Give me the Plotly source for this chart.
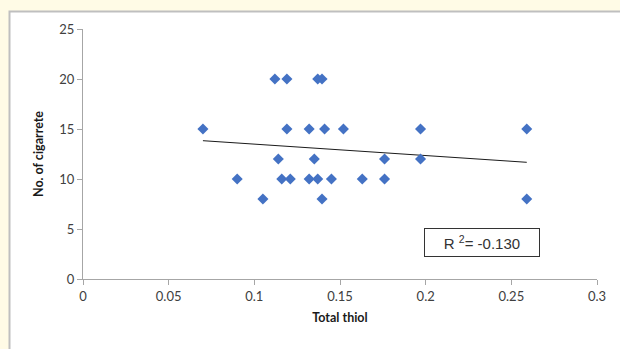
import plotly.graph_objects as go

# Data
total_thiol = [0.070, 0.090, 0.105, 0.112, 0.119, 0.114, 0.116, 0.119, 0.121,
               0.132, 0.132, 0.135, 0.137, 0.1395, 0.137, 0.1395, 0.141, 0.145,
               0.152, 0.163, 0.176, 0.176, 0.197, 0.197, 0.259, 0.259]
cigarettes = [15, 10, 8, 20, 20, 12, 10, 15, 10,
              15, 10, 12, 20, 20, 10, 8, 15, 10,
              15, 10, 12, 10, 15, 12, 15, 8]

trend_x = [0.070, 0.259]
trend_y = [13.83, 11.67]

x_ticks = [0, 0.05, 0.1, 0.15, 0.2, 0.25, 0.3]
x_tick_labels = ["0", "0.05", "0.1", "0.15", "0.2", "0.25", "0.3"]
y_ticks = [0, 5, 10, 15, 20, 25]

r2_text = "R <sup>2</sup>= -0.130"

W, H = 620, 349
ml, mr, mt, mb = 83, 23, 29, 70
pw, ph = W - ml - mr, H - mt - mb

fig = go.Figure()
fig.add_trace(go.Scatter(
    x=trend_x, y=trend_y, mode="lines",
    line=dict(color="#1a1a1a", width=1), hoverinfo="skip", showlegend=False))
fig.add_trace(go.Scatter(
    x=total_thiol, y=cigarettes, mode="markers",
    marker=dict(symbol="diamond", size=8.5, color="#4472C4"),
    showlegend=False))

tickfont = dict(family="Lato, Open Sans, sans-serif", size=13, color="#404040")

fig.update_layout(
    width=W, height=H,
    margin=dict(l=ml, r=mr, t=mt, b=mb),
    paper_bgcolor="#FFFBE6",
    plot_bgcolor="white",
    xaxis=dict(range=[0, 0.3], tickvals=x_ticks, ticktext=x_tick_labels,
               showgrid=False, zeroline=False, showline=True,
               linecolor="#A6A6A6", linewidth=1, ticks="outside",
               ticklen=5, tickcolor="#A6A6A6", tickfont=tickfont,
               title=dict(text="<b>Total thiol</b>", standoff=10,
                          font=dict(family="Lato, Open Sans, sans-serif",
                                    size=12.5, color="#1a1a1a"))),
    yaxis=dict(range=[0, 25], tickvals=y_ticks,
               showgrid=False, zeroline=False, showline=True,
               linecolor="#A6A6A6", linewidth=1, ticks="outside",
               ticklen=5, tickcolor="#A6A6A6", tickfont=tickfont,
               title=dict(text="<b>No. of cigarrete</b>", standoff=12,
                          font=dict(family="Lato, Open Sans, sans-serif",
                                    size=12.5, color="#1a1a1a"))),
    shapes=[dict(type="rect", xref="paper", yref="paper",
                 x0=(9.5 - ml) / pw, x1=1.5,
                 y0=-1.0, y1=(H - mb - 11.5) / ph,
                 line=dict(color="#BFBFBF", width=2),
                 fillcolor="white", layer="below")],
    annotations=[dict(x=0.2329, y=3.7, xref="x", yref="y",
                      text=r2_text, showarrow=False,
                      font=dict(family="Liberation Sans, Arial, sans-serif",
                                size=15, color="#333333"),
                      bordercolor="#333333", borderwidth=1, borderpad=2,
                      width=110, height=23, align="center",
                      bgcolor="white")],
)

fig.write_html("out.html",
               config={"displayModeBar": False},
               post_script="document.body.style.margin='0';"
                           "document.body.style.padding='0';"
                           "document.body.style.overflow='hidden';")
